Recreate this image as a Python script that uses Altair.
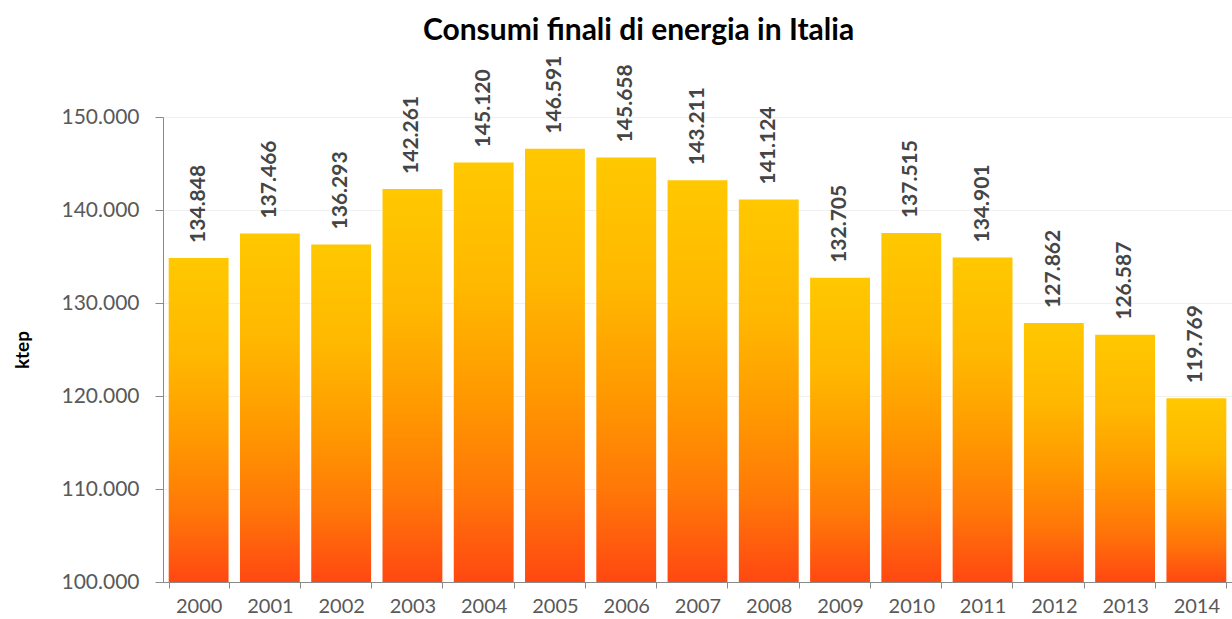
import altair as alt
import pandas as pd

years = ["2000", "2001", "2002", "2003", "2004", "2005", "2006", "2007",
         "2008", "2009", "2010", "2011", "2012", "2013", "2014"]
values = [134848, 137466, 136293, 142261, 145120, 146591, 145658, 143211,
          141124, 132705, 137515, 134901, 127862, 126587, 119769]
labels = [f"{v:,}".replace(",", ".") for v in values]

df = pd.DataFrame({"anno": years, "ktep": values, "label": labels})

FONT = "Lato"
GREY = "#595959"

x_enc = alt.X(
    "anno:N",
    sort=years,
    title=None,
    scale=alt.Scale(paddingInner=0.16, paddingOuter=0.08),
    axis=alt.Axis(
        labelAngle=0,
        labelFont=FONT,
        labelFontSize=20,
        labelColor=GREY,
        labelPadding=8,
        domainColor="#8a8a8a",
        tickColor="#8a8a8a",
        tickSize=6,
        tickBand="extent",
        grid=False,
    ),
)

y_scale = alt.Scale(domain=[100000, 150000], zero=False, nice=False)

bars = alt.Chart(df).mark_bar(
    color=alt.Gradient(
        gradient="linear",
        x1=0, x2=0, y1=0, y2=1,
        stops=[
            alt.GradientStop(color="#FFC800", offset=0),
            alt.GradientStop(color="#FFB800", offset=0.3),
            alt.GradientStop(color="#FF9A00", offset=0.55),
            alt.GradientStop(color="#FF7808", offset=0.78),
            alt.GradientStop(color="#FF4812", offset=1),
        ],
    )
).encode(
    x=x_enc,
    y=alt.Y(
        "ktep:Q",
        scale=y_scale,
        title="ktep",
        axis=alt.Axis(
            values=[100000, 110000, 120000, 130000, 140000, 150000],
            labelExpr="replace(format(datum.value, ','), ',', '.')",
            labelFont=FONT,
            labelFontSize=21,
            labelColor=GREY,
            labelPadding=16,
            domainColor="#8a8a8a",
            tickColor="#8a8a8a",
            tickSize=8,
            gridColor="#f0f0f0",
            titleFont=FONT,
            titleFontSize=19,
            titleFontWeight="bold",
            titleColor="#000000",
            titlePadding=28,
        ),
    ),
    y2=alt.datum(100000),
)

text = alt.Chart(df).mark_text(
    angle=270,
    align="left",
    baseline="middle",
    dx=15,
    font=FONT,
    fontSize=21,
    fontWeight="bold",
    color="#454545",
).encode(
    x=alt.X("anno:N", sort=years),
    y=alt.Y("ktep:Q", scale=y_scale),
    text="label:N",
)

chart = (
    alt.layer(bars, text)
    .properties(
        width=1069,
        height=465,
        autosize=alt.AutoSizeParams(type="none"),
        padding={"left": 163, "top": 117, "right": 0, "bottom": 37},
        title=alt.Title(
            "Consumi finali di energia in Italia",
            font=FONT,
            fontSize=30,
            fontWeight="bold",
            color="#000000",
            anchor="middle",
            dx=-59,
            dy=-6,
        ),
    )
    .configure_view(stroke=None)
    .configure(background="#ffffff")
)

chart.save("out.html", embed_options={"renderer": "svg", "actions": False})
